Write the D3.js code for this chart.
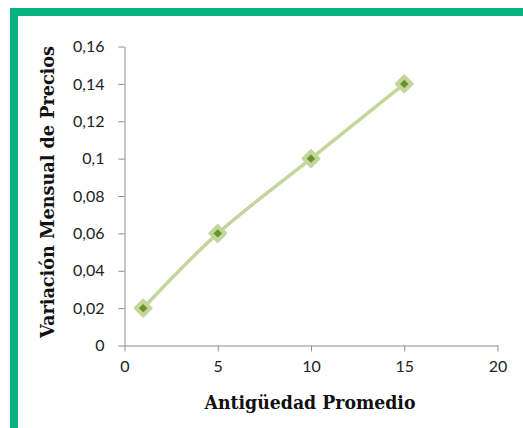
<!DOCTYPE html>
<html><head><meta charset="utf-8">
<script src="https://cdn.jsdelivr.net/npm/d3@7"></script>
<style>body{margin:0;background:#fff}svg{display:block}</style>
</head><body>
<svg id="c" width="523" height="428"></svg>
<script>
const xValues = [1, 5, 10, 15];
const yValues = [0.02, 0.06, 0.1, 0.14];
const xTicks = [0, 5, 10, 15, 20];
const yTicks = [0, 0.02, 0.04, 0.06, 0.08, 0.1, 0.12, 0.14, 0.16];
const xTitle = "Antigüedad Promedio";
const yTitle = "Variación Mensual de Precios";

const svg = d3.select("#c");
// green frame
svg.append("rect").attr("x", 10).attr("y", 8).attr("width", 513).attr("height", 8).attr("fill", "#08b283");
svg.append("rect").attr("x", 10).attr("y", 8).attr("width", 8).attr("height", 420).attr("fill", "#08b283");

const x = d3.scaleLinear().domain([0, 20]).range([124.5, 497.5]);
const y = d3.scaleLinear().domain([0, 0.16]).range([345.5, 46.5]);
const fmt = d => String(+d.toFixed(2)).replace(".", ",");

const ax = svg.append("g").attr("transform", `translate(0,${y(0)})`)
  .call(d3.axisBottom(x).tickValues(xTicks).tickSize(6).tickSizeOuter(0).tickPadding(9).tickFormat(d => d));
const ay = svg.append("g").attr("transform", `translate(${x(0)},0)`)
  .call(d3.axisLeft(y).tickValues(yTicks).tickSize(6).tickSizeOuter(0).tickPadding(14).tickFormat(fmt));
[ax, ay].forEach(g => {
  g.select(".domain").attr("stroke", "#8c8c8c");
  g.selectAll(".tick line").attr("stroke", "#8c8c8c");
  g.selectAll(".tick text").attr("fill", "#222").attr("font-family", "Lato, 'Open Sans', sans-serif").attr("font-size", 16);
});

const pts = xValues.map((v, i) => [v, yValues[i]]);
svg.append("path").datum(pts)
  .attr("d", d3.line().x(d => x(d[0])).y(d => y(d[1])).curve(d3.curveCatmullRom.alpha(0.5)))
  .attr("fill", "none").attr("stroke", "#c3d69b").attr("stroke-width", 3.5);

const g = svg.append("g");
g.selectAll(".o").data(pts).join("path")
  .attr("transform", d => `translate(${x(d[0])},${y(d[1])}) rotate(45)`)
  .attr("d", "M-5.8,-5.8H5.8V5.8H-5.8Z").attr("fill", "#c3d69b").attr("stroke", "#c3d69b").attr("stroke-width", 2.5).attr("stroke-linejoin", "round");
g.selectAll(".i").data(pts).join("path")
  .attr("transform", d => `translate(${x(d[0])},${y(d[1])}) rotate(45)`)
  .attr("d", "M-3,-3H3V3H-3Z").attr("fill", "#6a922f");

svg.append("text").attr("x", 310).attr("y", 409).attr("text-anchor", "middle")
  .attr("font-family", "'DejaVu Serif', serif").attr("font-weight", "bold").attr("font-size", 18)
  .attr("textLength", 211).attr("lengthAdjust", "spacingAndGlyphs").attr("fill", "#111").text(xTitle);
svg.append("text").attr("transform", "translate(54,192) rotate(-90)").attr("text-anchor", "middle")
  .attr("font-family", "'DejaVu Serif', serif").attr("font-weight", "bold").attr("font-size", 18)
  .attr("textLength", 292).attr("lengthAdjust", "spacingAndGlyphs").attr("fill", "#111").text(yTitle);
</script>
</body></html>
